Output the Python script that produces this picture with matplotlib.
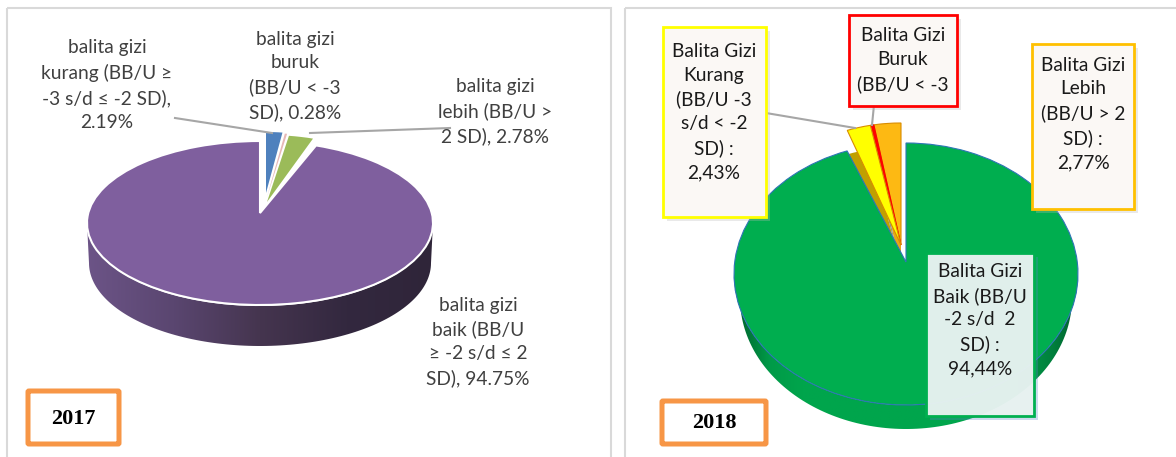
import matplotlib
matplotlib.use("Agg")
import matplotlib.pyplot as plt
from matplotlib.colors import LinearSegmentedColormap
from matplotlib.patches import FancyBboxPatch, PathPatch, Rectangle
from matplotlib.path import Path
import numpy as np

plt.rcParams["font.family"] = ["Lato", "DejaVu Sans"]

# 2017: clockwise from 12 o'clock
VALUES_2017 = [2.19, 0.28, 2.78, 94.75]
COLORS_2017 = ["#4f81bd", "#e6b8b7", "#9bbb59", "#7f5f9e"]
LABELS_2017 = [
    "balita gizi\nkurang (BB/U ≥\n-3 s/d ≤ -2 SD),\n2.19%",
    "balita gizi\nburuk\n(BB/U < -3\nSD), 0.28%",
    "balita gizi\nlebih (BB/U >\n2 SD), 2.78%",
    "balita gizi\nbaik (BB/U\n≥ -2 s/d ≤ 2\nSD), 94.75%",
]

# 2018: counter-clockwise from 12 o'clock
VALUES_2018 = [2.77, 0.36, 2.43, 94.44]
COLORS_2018 = ["#fdb913", "#ff0000", "#ffff00", "#00ae4f"]
SIDES_2018 = ["#e6a817", "#8f8f8f", "#c0a000", "none"]
LABELS_2018 = [
    "Balita Gizi\nLebih\n(BB/U > 2\nSD) :\n2,77%",
    "Balita Gizi\nBuruk\n(BB/U < -3",
    "Balita Gizi\nKurang\n(BB/U -3\ns/d < -2\nSD) :\n2,43%",
    "Balita Gizi\nBaik (BB/U\n-2 s/d  2\nSD) :\n94,44%",
]

W, H = 1176, 457
GREY = "#a6a6a6"

fig = plt.figure(figsize=(W / 100, H / 100), dpi=100)
ax = fig.add_axes([0, 0, 1, 1])


def place(wedge, cx, cy, rx, ry, apex_y=None):
    # move a unit pie wedge to pixel coords; the tilt puts the apex above the ellipse centre
    v = wedge.get_path().vertices
    at_apex = np.hypot(v[:, 0], v[:, 1]) < 1e-6
    v[:, 0] = cx + v[:, 0] * rx
    v[:, 1] = cy - v[:, 1] * ry
    if apex_y is not None:
        v[at_apex, 1] = apex_y


def pie_layer(values, colors, start=90, ccw=False, edge="none", lw=0):
    wedges, _ = ax.pie(values, colors=colors, startangle=start, counterclock=ccw,
                       wedgeprops=dict(edgecolor=edge, linewidth=lw))
    return wedges


def side_band(cx, cy, rx, rx_low, ry, depth, stops):
    # rim of the 3D pie, the lower edge is a bit narrower because of the perspective
    t = np.linspace(np.pi, 2 * np.pi, 120)
    y = cy - ry * np.sin(t)
    upper = np.c_[cx + rx * np.cos(t), y]
    lower = np.c_[cx + rx_low * np.cos(t), y + depth]
    pts = np.r_[upper, lower[::-1]]
    clip = PathPatch(Path(np.r_[pts, pts[:1]], closed=True), fc="none", ec="none",
                     transform=ax.transData)
    ax.add_patch(clip)
    cmap = LinearSegmentedColormap.from_list("side", stops)
    im = ax.imshow(np.linspace(0, 1, 256)[None, :], cmap=cmap, aspect="auto", zorder=1,
                   extent=(cx - rx, cx + rx, cy + ry + depth, cy - 5))
    im.set_clip_path(clip)


def label_box(x0, y0, x1, y1, color, face="#fbf8f5", alpha=1.0, shadow="#b8b8b8"):
    ax.add_patch(Rectangle((x0 + 4, y0 + 4), x1 - x0, y1 - y0, fc=shadow, ec="none",
                           alpha=0.3, zorder=5))
    ax.add_patch(Rectangle((x0, y0), x1 - x0, y1 - y0, fc=face, ec="none", alpha=alpha, zorder=6))
    ax.add_patch(Rectangle((x0, y0), x1 - x0, y1 - y0, fc="none", ec=color, lw=2.0, zorder=6))


def year_box(x0, y0, x1, y1, year):
    ax.add_patch(FancyBboxPatch((x0, y0), x1 - x0, y1 - y0, boxstyle="round,pad=0,rounding_size=1",
                                fc="white", ec="#f79646", lw=3.6, zorder=6))
    ax.text((x0 + x1) / 2, (y0 + y1) / 2 + 1, year, ha="center", va="center", fontsize=16,
            fontweight="bold", family="Liberation Serif", color="black", zorder=7)


def label(x, y, txt, color="#404040"):
    ax.text(x, y, txt, ha="center", va="center", fontsize=13.8, color=color,
            linespacing=1.48, zorder=8)


# panel frames, the right one runs off the page
ax.add_patch(Rectangle((7, 7.5), 604, 470, fc="none", ec="#d9d9d9", lw=1.5))
ax.add_patch(Rectangle((625, 7.5), 600, 470, fc="none", ec="#d9d9d9", lw=1.5))

# ---- 2017 ----
side_band(260, 223, 173, 171, 83, 40, ["#6c5487", "#5a4670", "#45354f", "#33283f", "#2f2539"])
w17 = pie_layer(VALUES_2017, COLORS_2017, edge="white", lw=1.5)
place(w17[3], 260, 223, 173, 82, 213)
place(w17[0], 266, 193, 120, 61)
place(w17[1], 267, 197, 130, 64)
place(w17[2], 267, 202, 142, 67)
for w in w17:
    w.set_zorder(2)
for w in w17[:3]:
    w.set_linewidth(0)

ax.plot([175, 272], [118, 133], color=GREY, lw=1.5, zorder=3)
ax.plot([310, 450], [133, 128], color=GREY, lw=1.5, zorder=3)

label(107, 85, LABELS_2017[0])
label(295, 76, LABELS_2017[1])
label(495, 112, LABELS_2017[2])
label(478, 342, LABELS_2017[3])
year_box(28, 391, 119, 444, "2017")

# ---- 2018 ----
side_band(906, 274, 172, 166, 131, 24,
          [(0, "#005f2c"), (0.1, "#009a48"), (0.2, "#00a54c"), (0.8, "#00a54c"),
           (0.93, "#007f3c"), (1, "#005f2c")])
side = pie_layer(VALUES_2018, SIDES_2018, ccw=True)
for w in side:
    place(w, 901, 269, 157, 122)
    w.set_zorder(2)
small = pie_layer(VALUES_2018, COLORS_2018, ccw=True, edge="#d98c00", lw=0.8)
for w in small[:3]:
    place(w, 901, 245, 157, 122)
    w.set_zorder(3)
small[1].set_edgecolor("#ff0000")
small[3].remove()
main18 = pie_layer(VALUES_2018, ["none", "none", "none", COLORS_2018[3]], ccw=True,
                   edge="#2e75b6", lw=0.8)
for w in main18[:3]:
    w.remove()
place(main18[3], 906, 274, 172, 131, 262)
main18[3].set_zorder(4)

ax.plot([766, 855], [113, 128], color=GREY, lw=1.5, zorder=5)
ax.plot([874, 872], [105, 125], color=GREY, lw=1.5, zorder=5)

label_box(663, 27, 766, 217, "#ffff00")
label_box(849, 15, 957, 106, "#ff0000")
label_box(1032, 44, 1134, 209, "#ffc000")
label_box(926, 253, 1034, 416, "#00b050", face="#e9f3f1", alpha=0.96, shadow="#5b86c4")
DARK = "#1a1a1a"
label(714, 112, LABELS_2018[2], DARK)
label(903, 60, LABELS_2018[1], DARK)
label(1083, 114, LABELS_2018[0], DARK)
label(980, 320, LABELS_2018[3], DARK)
year_box(662, 401, 766, 444, "2018")

ax.set_aspect("auto")
ax.set_xlim(0, W)
ax.set_ylim(H, 0)
ax.axis("off")

fig.savefig("out.png", dpi=100, facecolor="white")
